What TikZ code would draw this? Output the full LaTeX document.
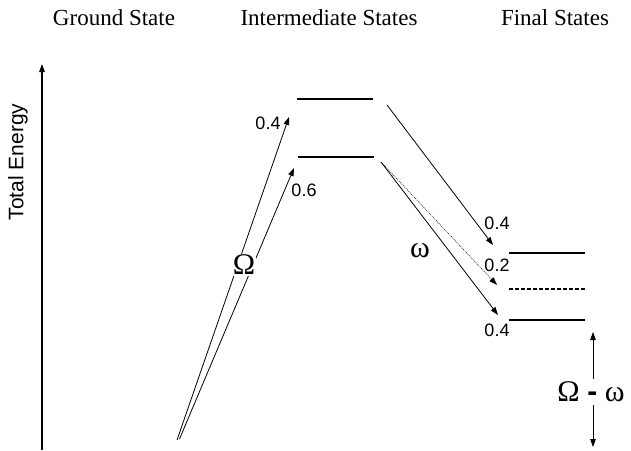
\documentclass[tikz,border=0pt]{standalone}
\usepackage{fontspec}
\setmainfont{Liberation Serif}
\setsansfont{Liberation Sans}
\usetikzlibrary{arrows.meta, positioning, calc}

\begin{document}
\begin{tikzpicture}[
    x=1pt, y=-1pt,
    >={Triangle[length=8pt,width=5.5pt]},
    line width=0.8pt,
    heading/.style={
        font=\fontsize{23}{25}\selectfont,
        inner sep=0pt
    },
    prob/.style={
        font=\sffamily\fontsize{18}{20}\selectfont,
        inner sep=0pt
    },
    greek/.style={
        font=\fontsize{30}{32}\selectfont,
        inner sep=1pt
    },
    level/.style={line width=2.8pt},
    virtual/.style={line width=2.8pt, dash pattern=on 3.5pt off 2.5pt},
    trans/.style={->, line width=0.8pt},
    weak/.style={->, line width=0.5pt, dash pattern=on 1pt off 1pt}
]
\useasboundingbox (0,0) rectangle (631,450);

% Column headings
\node[heading] (hground) at (114,18) {Ground State};
\node[heading] (hinter) at (329,18) {Intermediate States};
\node[heading] (hfinal) at (555,18) {Final States};

% Energy axis
\coordinate (axbot) at (42,450);
\coordinate (axtop) at (42,64);
\draw[->, line width=1.2pt] (axbot) -- (axtop);
\node[font=\sffamily\fontsize{21}{23}\selectfont, rotate=90] (axlabel) at (18,162) {Total Energy};

% Intermediate levels
\coordinate (i1w) at (297,99);
\coordinate (i1e) at (373,99);
\coordinate (i2w) at (298,157);
\coordinate (i2e) at (374,157);
\draw[level] (i1w) -- (i1e);
\draw[level] (i2w) -- (i2e);

% Final levels
\coordinate (f1w) at (509,253);
\coordinate (f1e) at (585,253);
\coordinate (f2w) at (509,289);
\coordinate (f2e) at (585,289);
\coordinate (f3w) at (509,320);
\coordinate (f3e) at (585,320);
\draw[level] (f1w) -- (f1e);
\draw[virtual] (f2w) -- (f2e);
\draw[level] (f3w) -- (f3e);

% Excitation from the ground state
\coordinate (g1) at (177,440);
\coordinate (g2) at (179.5,439);
\coordinate (up1) at (289,117);
\coordinate (up2) at (294,168);
\draw[trans] (g1) -- (up1);
\draw[trans] (g2) -- (up2);
\node[prob] (p04a) at (268,123) {0.4};
\node[prob] (p06) at (304,190) {0.6};
\node[greek, fill=white] (Om) at (244,265) {Ω};

% Emission to the final states
\coordinate (e1) at (387,105);
\coordinate (e2) at (381,162);
\coordinate (dn1) at (493,245);
\coordinate (dn2) at (497,285);
\coordinate (dn3) at (498,315);
\draw[trans] (e1) -- (dn1);
\draw[weak] (e2) -- (dn2);
\draw[trans] (e2) -- (dn3);
\node[greek] (om) at (420,251) {ω};
\node[prob] (p04b) at (497,223) {0.4};
\node[prob] (p02) at (497,265) {0.2};
\node[prob] (p04c) at (497,330) {0.4};

% Energy difference
\node[greek] (diff) at (591,392) {Ω \textsf{\textbf{-}} ω};
\coordinate (dtop) at (593,332);
\coordinate (dbot) at (593,447);
\draw[trans] (diff.north -| dtop) ++(0,-2) -- (dtop);
\draw[trans] (diff.south -| dbot) ++(0,2) -- (dbot);

\end{tikzpicture}
\end{document}
